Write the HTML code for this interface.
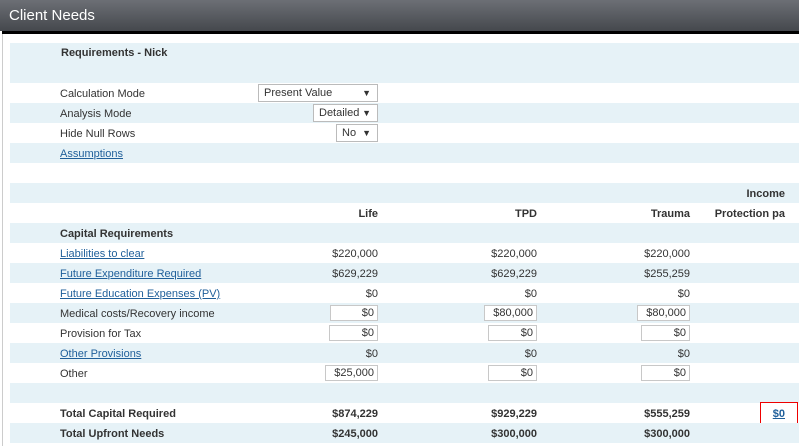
<!DOCTYPE html><html><head><style>
body{margin:0;width:799px;height:446px;overflow:hidden;background:#fff;font-family:"Liberation Sans",Arial,sans-serif;font-size:11px;color:#333;position:relative}
.hd{position:absolute;left:0;top:0;width:799px;height:31px;background:linear-gradient(#6c6f75,#45484d);color:#fff;font-size:15px;line-height:31px;padding-left:9px;box-sizing:border-box}
.bl{position:absolute;left:2px;top:31px;width:797px;height:3px;background:#000}
.lb{position:absolute;left:2px;top:34px;width:1px;height:412px;background:#ccc}
.r{position:absolute;left:10px;width:789px;height:20px}
.b{background:#e6f2f7}
.t{position:absolute;line-height:20px;white-space:nowrap;margin-top:1px}
.a{color:#1f5f9a;text-decoration:underline}
.bo{font-weight:bold}
.in{position:absolute;height:16px;border:1px solid #c8c8c8;background:#fff;box-sizing:border-box;text-align:right;line-height:14px;padding-right:3px;font-size:11px}
.sel{position:absolute;height:18px;border:1px solid #bbb;background:#fff;box-sizing:border-box;line-height:16px;padding-left:5px;font-size:11px}
.sel span{position:absolute;right:6px;top:0;font-size:9px}
</style></head><body>
<div class="hd">Client Needs</div><div class="bl"></div><div class="lb"></div>
<div class="r b" style="top:43px;height:40px"></div>
<div class="t bo" style="left:61px;top:42px">Requirements - Nick</div>
<div class="r" style="top:83px"></div>
<div class="t" style="left:60px;top:83px">Calculation Mode</div>
<div class="sel" style="left:258px;top:84px;width:120px">Present Value<span>▼</span></div>
<div class="r b" style="top:103px"></div>
<div class="t" style="left:60px;top:103px">Analysis Mode</div>
<div class="sel" style="left:313px;top:104px;width:65px">Detailed<span>▼</span></div>
<div class="t" style="left:60px;top:123px">Hide Null Rows</div>
<div class="sel" style="left:336px;top:124px;width:42px">No<span>▼</span></div>
<div class="r b" style="top:143px"></div>
<div class="t a" style="left:60px;top:143px">Assumptions</div>
<div class="r b" style="top:183px"></div>
<div class="t bo" style="right:14px;top:183px">Income</div>
<div class="t bo" style="right:421px;top:203px">Life</div>
<div class="t bo" style="right:262px;top:203px">TPD</div>
<div class="t bo" style="right:109px;top:203px">Trauma</div>
<div class="t bo" style="right:14px;top:203px">Protection pa</div>
<div class="r b" style="top:223px"></div>
<div class="t bo" style="left:60px;top:223px">Capital Requirements</div>
<div class="t a" style="left:60px;top:243px">Liabilities to clear</div>
<div class="t" style="right:421px;top:243px">$220,000</div><div class="t" style="right:262px;top:243px">$220,000</div><div class="t" style="right:109px;top:243px">$220,000</div>
<div class="r b" style="top:263px"></div>
<div class="t a" style="left:60px;top:263px">Future Expenditure Required</div>
<div class="t" style="right:421px;top:263px">$629,229</div><div class="t" style="right:262px;top:263px">$629,229</div><div class="t" style="right:109px;top:263px">$255,259</div>
<div class="t a" style="left:60px;top:283px">Future Education Expenses (PV)</div>
<div class="t" style="right:421px;top:283px">$0</div><div class="t" style="right:262px;top:283px">$0</div><div class="t" style="right:109px;top:283px">$0</div>
<div class="r b" style="top:303px"></div>
<div class="t" style="left:60px;top:303px">Medical costs/Recovery income</div>
<div class="in" style="left:330px;top:305px;width:48px">$0</div><div class="in" style="left:484px;top:305px;width:53px">$80,000</div><div class="in" style="left:637px;top:305px;width:53px">$80,000</div>
<div class="t" style="left:60px;top:323px">Provision for Tax</div>
<div class="in" style="left:329px;top:325px;width:49px">$0</div><div class="in" style="left:488px;top:325px;width:49px">$0</div><div class="in" style="left:641px;top:325px;width:49px">$0</div>
<div class="r b" style="top:343px"></div>
<div class="t a" style="left:60px;top:343px">Other Provisions</div>
<div class="t" style="right:421px;top:343px">$0</div><div class="t" style="right:262px;top:343px">$0</div><div class="t" style="right:109px;top:343px">$0</div>
<div class="t" style="left:60px;top:363px">Other</div>
<div class="in" style="left:325px;top:365px;width:53px">$25,000</div><div class="in" style="left:488px;top:365px;width:49px">$0</div><div class="in" style="left:641px;top:365px;width:49px">$0</div>
<div class="r b" style="top:383px"></div>
<div class="t bo" style="left:60px;top:403px">Total Capital Required</div>
<div class="t bo" style="right:421px;top:403px">$874,229</div><div class="t bo" style="right:262px;top:403px">$929,229</div><div class="t bo" style="right:109px;top:403px">$555,259</div>
<div class="t bo a" style="right:14px;top:403px">$0</div>
<div style="position:absolute;left:760px;top:402px;width:38px;height:23px;border:1px solid #e00;box-sizing:border-box"></div>
<div class="r b" style="top:423px"></div>
<div class="t bo" style="left:60px;top:423px">Total Upfront Needs</div>
<div class="t bo" style="right:421px;top:423px">$245,000</div><div class="t bo" style="right:262px;top:423px">$300,000</div><div class="t bo" style="right:109px;top:423px">$300,000</div>
</body></html>
